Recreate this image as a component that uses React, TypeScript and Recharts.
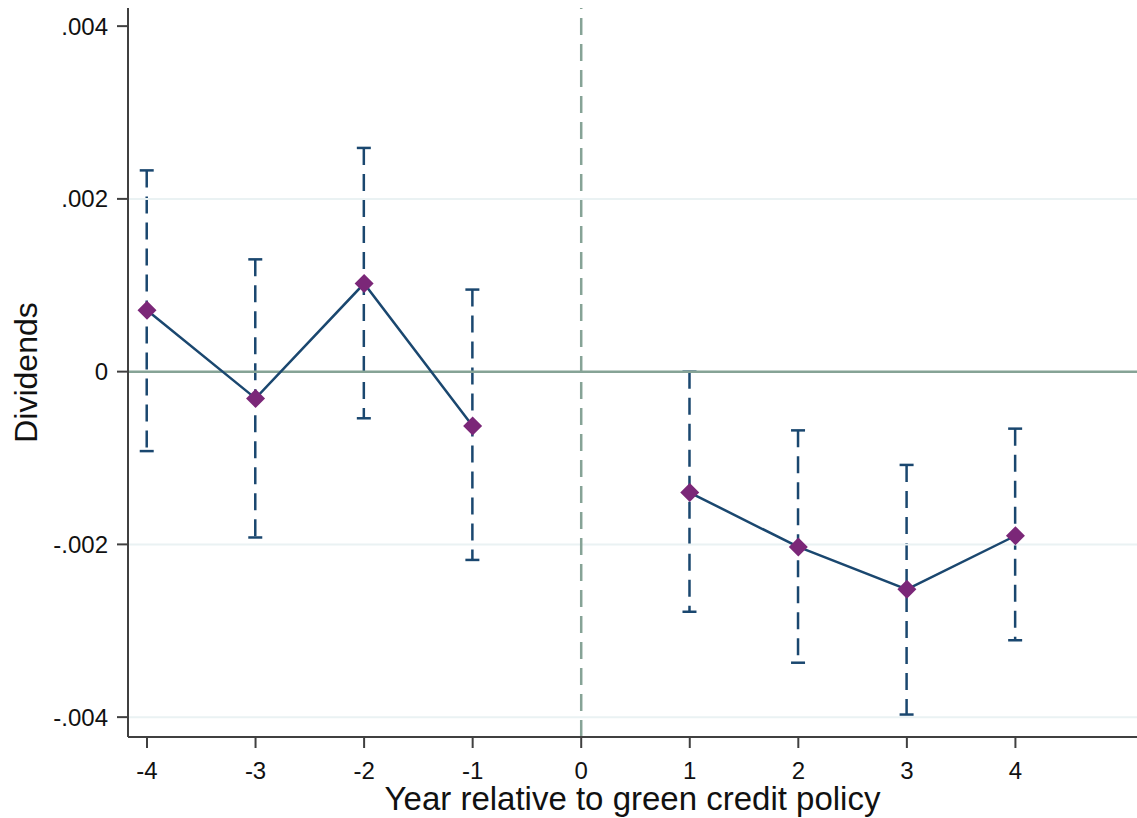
import { ComposedChart, Line, Bar, XAxis, YAxis, ReferenceLine } from "recharts";

// event-study estimates, year relative to policy (no estimate at 0)
const years = [-4, -3, -2, -1, 0, 1, 2, 3, 4];
const estimates = [0.00071, -0.00031, 0.00102, -0.00063, null, -0.0014, -0.00203, -0.00252, -0.0019];
const lowerCI = [-0.00092, -0.00192, -0.00054, -0.00218, null, -0.00278, -0.00337, -0.00397, -0.00311];
const upperCI = [0.00233, 0.0013, 0.00259, 0.00095, null, 0.0, -0.00068, -0.00108, -0.00066];

const xTicks = [-4, -3, -2, -1, 0, 1, 2, 3, 4];
const yTicks = [-0.004, -0.002, 0, 0.002, 0.004];
const gridLevels = [0.002, -0.002, -0.004];

const COLORS = {
  line: "#1a476f",
  marker: "#7b2778",
  ref: "#86a396",
  grid: "#eaf2f3",
  axis: "#404040",
  text: "#111111",
};

const FONT = "'Liberation Sans', Arial, sans-serif";

const data = years.map((x, i) => ({
  x,
  est: estimates[i],
  ci: lowerCI[i] === null ? null : [lowerCI[i], upperCI[i]],
}));

const fmtY = (v: number) => {
  if (v === 0) return "0";
  const s = v.toFixed(3);
  return s.replace("0.", ".");
};

const CiShape = (props: any) => {
  const { x, y, width, height } = props;
  if (x == null || y == null || !height) return <g />;
  const cx = x + width / 2;
  const top = Math.min(y, y + height);
  const bottom = Math.max(y, y + height);
  const half = 7;
  return (
    <g stroke={COLORS.line} strokeWidth={2.5}>
      <line x1={cx} x2={cx} y1={top} y2={bottom} strokeDasharray="17 9" />
      <line x1={cx - half} x2={cx + half} y1={top} y2={top} />
      <line x1={cx - half} x2={cx + half} y1={bottom} y2={bottom} />
    </g>
  );
};

const Diamond = (props: any) => {
  const { cx, cy, index } = props;
  if (cx == null || cy == null || props.value == null) return <g key={`d-${index}`} />;
  const r = 9.5;
  return (
    <polygon
      key={`d-${index}`}
      points={`${cx},${cy - r} ${cx + r},${cy} ${cx},${cy + r} ${cx - r},${cy}`}
      fill={COLORS.marker}
    />
  );
};

const XTitle = (props: any) => {
  const vb = props.viewBox || {};
  return (
    <text x={vb.x + vb.width / 2} y={810} textAnchor="middle" fontSize={33} fill={COLORS.text} fontFamily={FONT}>
      Year relative to green credit policy
    </text>
  );
};

const YTitle = (props: any) => {
  const vb = props.viewBox || {};
  const cy = vb.y + vb.height / 2;
  return (
    <text x={37} y={cy} transform={`rotate(-90 37 ${cy})`} textAnchor="middle" fontSize={32} fill={COLORS.text} fontFamily={FONT}>
      Dividends
    </text>
  );
};

export default function App() {
  return (
    <div style={{ position: "absolute", left: 0, top: 0, background: "#fff", fontFamily: FONT }}>
      <ComposedChart width={1137} height={818} data={data} margin={{ top: 8, right: 0, bottom: 0, left: 0 }}>
        {gridLevels.map((g) => (
          <ReferenceLine key={g} y={g} stroke={COLORS.grid} strokeWidth={2} />
        ))}
        <XAxis
          dataKey="x"
          type="number"
          domain={[-4.175, 5.12]}
          ticks={xTicks}
          allowDataOverflow
          height={81}
          tickSize={11}
          tickMargin={14}
          stroke={COLORS.axis}
          strokeWidth={2}
          tick={{ fontSize: 24, fill: COLORS.text, fontFamily: FONT }}
          label={<XTitle />}
        />
        <YAxis
          type="number"
          domain={[-0.00423, 0.00421]}
          ticks={yTicks}
          allowDataOverflow
          width={128}
          tickSize={11}
          tickMargin={9}
          stroke={COLORS.axis}
          strokeWidth={2}
          tickFormatter={fmtY}
          tick={{ fontSize: 24, fill: COLORS.text, fontFamily: FONT }}
          label={<YTitle />}
        />
        <ReferenceLine y={0} stroke={COLORS.ref} strokeWidth={2.5} />
        <ReferenceLine x={0} stroke={COLORS.ref} strokeWidth={2.5} strokeDasharray="17 9" />
        <Bar dataKey="ci" barSize={14} shape={<CiShape />} isAnimationActive={false} />
        <Line
          dataKey="est"
          stroke={COLORS.line}
          strokeWidth={2.5}
          connectNulls={false}
          dot={Diamond}
          activeDot={false}
          isAnimationActive={false}
        />
      </ComposedChart>
    </div>
  );
}
